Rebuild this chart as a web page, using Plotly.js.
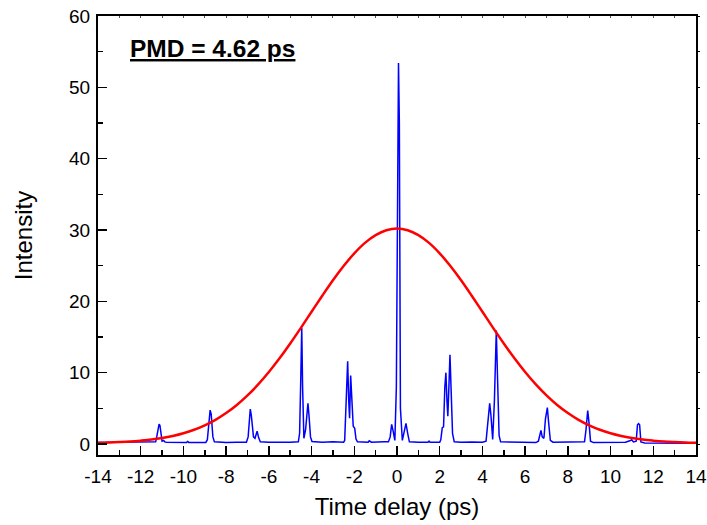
<!DOCTYPE html>
<html>
<head>
<meta charset="utf-8">
<script src="https://cdn.plot.ly/plotly-3.0.1.min.js"></script>
<style>html,body{margin:0;padding:0;background:#fff;}#plot{width:707px;height:525px;}</style>
</head>
<body>
<div id="plot"></div>
<script>
// Measured interferogram (blue)
var blueX = [-14, -13, -12.2, -11.4, -11.3, -11.25, -11.2, -11.17, -11.14, -11.1, -11.05, -11.0, -10.93, -10.87, -10.8, -10.3, -9.85, -9.8, -9.75, -9.6, -8.95, -8.88, -8.8, -8.75, -8.7, -8.62, -8.55, -8.0, -7.5, -7.05, -6.97, -6.9, -6.87, -6.82, -6.72, -6.65, -6.55, -6.48, -6.4, -6.0, -5.5, -5.0, -4.62, -4.56, -4.5, -4.46, -4.42, -4.36, -4.28, -4.2, -4.17, -4.12, -4.05, -3.98, -3.5, -3.0, -2.5, -2.45, -2.38, -2.31, -2.26, -2.22, -2.17, -2.12, -2.05, -1.98, -1.92, -1.85, -1.35, -1.3, -1.2, -0.6, -0.4, -0.32, -0.25, -0.18, -0.1, -0.03, 0.03, 0.07, 0.11, 0.16, 0.25, 0.34, 0.42, 0.5, 0.58, 1.0, 1.45, 1.5, 1.55, 2.0, 2.05, 2.12, 2.18, 2.24, 2.29, 2.34, 2.38, 2.43, 2.48, 2.53, 2.6, 2.68, 3.0, 3.5, 4.0, 4.17, 4.25, 4.34, 4.4, 4.48, 4.56, 4.65, 4.71, 4.78, 4.85, 5.5, 6.0, 6.5, 6.62, 6.7, 6.74, 6.8, 6.88, 6.95, 7.04, 7.1, 7.18, 7.3, 8.0, 8.5, 8.78, 8.85, 8.93, 8.99, 9.06, 9.2, 10.0, 10.7, 10.9, 10.99, 11.07, 11.2, 11.26, 11.31, 11.36, 11.42, 11.6, 14];
var blueY = [0.2, 0.22, 0.2, 0.22, 0.3, 1.0, 2.2, 2.3, 2.8, 2.6, 1.0, 0.4, 0.5, 0.3, 0.25, 0.2, 0.22, 0.35, 0.22, 0.2, 0.22, 0.6, 3.5, 4.75, 4.2, 1.0, 0.3, 0.2, 0.25, 0.25, 1.0, 4.5, 4.9, 4.0, 1.0, 0.8, 1.8, 0.9, 0.3, 0.25, 0.2, 0.25, 0.3, 1.5, 10, 16.3, 8, 0.8, 2, 5.5, 5.7, 4, 1.0, 0.35, 0.25, 0.3, 0.25, 0.5, 6, 11.6, 6, 3.6, 9.6, 7, 2.5, 2.2, 0.7, 0.3, 0.25, 0.45, 0.25, 0.3, 0.3, 1.0, 2.76, 1.8, 0.5, 8, 45, 53.4, 45, 5, 0.5, 1.8, 2.9, 1.5, 0.3, 0.25, 0.25, 0.4, 0.25, 0.25, 0.6, 2.3, 2.4, 8, 10.0, 6, 3.9, 8, 12.5, 8, 1.5, 0.3, 0.25, 0.28, 0.25, 0.4, 3, 5.7, 4, 0.65, 6, 15.9, 9, 1.2, 0.3, 0.25, 0.3, 0.2, 0.4, 1.5, 1.9, 1.0, 0.8, 3.5, 5.1, 3, 0.5, 0.25, 0.25, 0.3, 0.3, 2, 4.7, 3, 0.4, 0.2, 0.2, 0.25, 0.45, 0.6, 0.3, 0.4, 2.7, 2.85, 2.7, 0.3, 0.15, 0.12];

// Gaussian envelope fit (red), read at 0.5 ps steps
var redX = [-14, -13.5, -13, -12.5, -12, -11.5, -11, -10.5, -10, -9.5, -9, -8.5, -8, -7.5, -7, -6.5, -6, -5.5, -5, -4.5, -4, -3.5, -3, -2.5, -2, -1.5, -1, -0.5, 0, 0.5, 1, 1.5, 2, 2.5, 3, 3.5, 4, 4.5, 5, 5.5, 6, 6.5, 7, 7.5, 8, 8.5, 9, 9.5, 10, 10.5, 11, 11.5, 12, 12.5, 13, 13.5, 14];
var redY = [0.17, 0.21, 0.27, 0.35, 0.47, 0.62, 0.84, 1.13, 1.51, 2.0, 2.62, 3.39, 4.34, 5.47, 6.81, 8.35, 10.09, 12.01, 14.09, 16.28, 18.54, 20.78, 22.95, 24.95, 26.73, 28.2, 29.29, 29.97, 30.2, 29.97, 29.29, 28.2, 26.73, 24.95, 22.95, 20.78, 18.54, 16.28, 14.09, 12.01, 10.09, 8.35, 6.81, 5.47, 4.34, 3.39, 2.62, 2.0, 1.51, 1.13, 0.84, 0.62, 0.47, 0.35, 0.27, 0.21, 0.17];

var xTickVals = [-14, -12, -10, -8, -6, -4, -2, 0, 2, 4, 6, 8, 10, 12, 14];
var yTickVals = [0, 10, 20, 30, 40, 50, 60];
var annotationText = 'PMD = 4.62 ps';

var font = 'Liberation Sans, Arial, sans-serif';

var traces = [
  {x: blueX, y: blueY, type: 'scatter', mode: 'lines', line: {color: '#0000ff', width: 1.5}, hoverinfo: 'skip'},
  {x: redX, y: redY, type: 'scatter', mode: 'lines', line: {color: '#ff0000', width: 2.5, shape: 'spline'}, hoverinfo: 'skip'},
  {x: [], y: [], xaxis: 'x2', yaxis: 'y2', type: 'scatter', mode: 'lines', hoverinfo: 'skip', showlegend: false}
];

var layout = {
  width: 707, height: 525,
  margin: {l: 98, r: 11, t: 16, b: 70},
  paper_bgcolor: '#fff', plot_bgcolor: '#fff',
  showlegend: false,
  font: {family: font, color: '#000'},
  xaxis: {
    range: [-14, 14], showgrid: false, zeroline: false,
    showline: true, linecolor: '#000', linewidth: 2,
    ticks: 'inside', ticklen: 9, tickwidth: 1.5, tickcolor: '#000',
    tickvals: xTickVals, ticktext: xTickVals.map(String),
    minor: {dtick: 1, ticks: 'inside', ticklen: 5, tickwidth: 1.5, tickcolor: '#000', showgrid: false},
    tickfont: {size: 19, family: font, color: '#000'},
    ticklabelstandoff: 3,
    title: {text: 'Time delay (ps)', font: {size: 24, family: font, color: '#000'}, standoff: 12},
    fixedrange: true
  },
  yaxis: {
    range: [-1.54, 60], showgrid: false, zeroline: false,
    showline: true, linecolor: '#000', linewidth: 2,
    ticks: 'inside', ticklen: 9, tickwidth: 1.5, tickcolor: '#000',
    tickvals: yTickVals, ticktext: yTickVals.map(String),
    minor: {dtick: 5, tick0: 0, ticks: 'inside', ticklen: 5, tickwidth: 1.5, tickcolor: '#000', showgrid: false},
    tickfont: {size: 19, family: font, color: '#000'},
    ticklabelstandoff: 2,
    title: {text: 'Intensity', font: {size: 24, family: font, color: '#000'}, standoff: 30},
    fixedrange: true
  },
  xaxis2: {
    overlaying: 'x', side: 'top', anchor: 'y2', range: [-14, 14],
    showgrid: false, zeroline: false, showline: true, linecolor: '#000', linewidth: 2,
    ticks: 'inside', ticklen: 2, tickwidth: 1, tickcolor: '#555', dtick: 1, tick0: 0,
    showticklabels: false, fixedrange: true
  },
  yaxis2: {
    overlaying: 'y', side: 'right', anchor: 'x2', range: [-1.54, 60],
    showgrid: false, zeroline: false, showline: true, linecolor: '#000', linewidth: 2,
    ticks: 'outside', ticklen: 2, tickwidth: 1, tickcolor: '#000', dtick: 5, tick0: 0,
    showticklabels: false, fixedrange: true
  },
  annotations: [{
    x: -12.6, y: 55.5, xref: 'x', yref: 'y', xanchor: 'left', yanchor: 'middle',
    text: '<b><u>' + annotationText + '</u></b>', showarrow: false,
    font: {size: 24.5, family: font, color: '#000'}
  }]
};

Plotly.newPlot('plot', traces, layout, {displayModeBar: false, staticPlot: true});
</script>
</body>
</html>
